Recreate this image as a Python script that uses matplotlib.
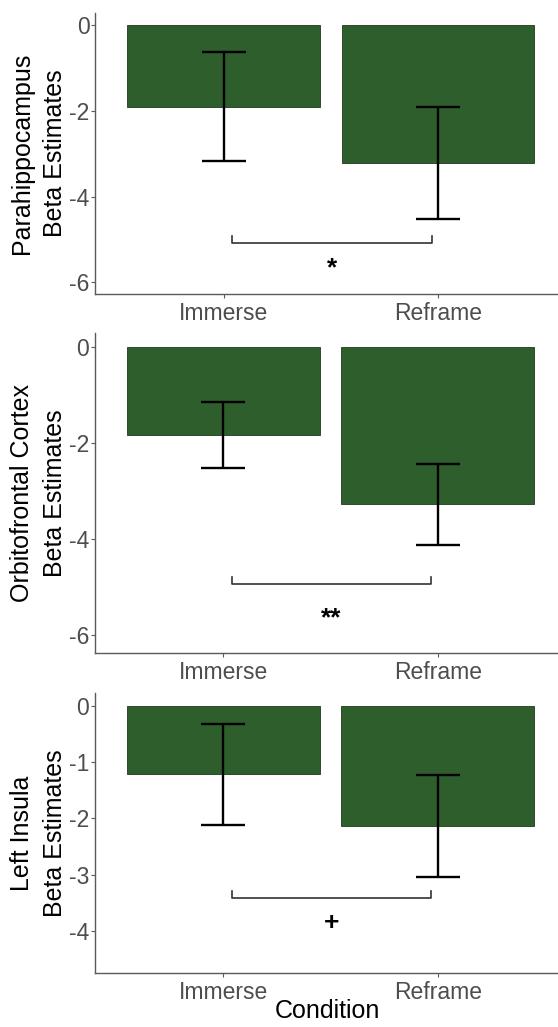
import matplotlib

matplotlib.use("Agg")
import matplotlib.pyplot as plt
import numpy as np

conditions = ["Immerse", "Reframe"]
region_labels = [
    "Parahippocampus\nBeta Estimates",
    "Orbitofrontal Cortex\nBeta Estimates",
    "Left Insula\nBeta Estimates",
]
para_means = [-1.90, -3.22]
para_se = [1.27, 1.30]
ofc_means = [-1.84, -3.28]
ofc_se = [0.69, 0.84]
insula_means = [-1.21, -2.14]
insula_se = [0.90, 0.91]

sig_labels = ["*", "**", "+"]
bracket_y = [-5.07, -4.95, -3.42]
bracket_tip = [0.15, 0.16, 0.12]
sig_text_y = [-5.66, -5.66, -3.86]
y_ticks = [[0, -2, -4, -6], [0, -2, -4, -6], [0, -1, -2, -3, -4]]
y_limits = [(-6.27, 0.29), (-6.37, 0.28), (-4.75, 0.23)]

BAR_COLOR = "#2E5E2C"
AXIS_GREY = "#5A5A5A"
TEXT_GREY = "#4D4D4D"

plt.rcParams.update(
    {
        "font.family": ["Liberation Sans", "DejaVu Sans"],
        "axes.unicode_minus": False,
    }
)

W, H = 558, 1027
fig = plt.figure(figsize=(W / 100, H / 100), dpi=100)

# axes boxes in pixels: (left, top, bottom)
boxes = [(95, 12.7, 294), (94.5, 333.3, 652.7), (94.5, 693.3, 972.7)]
series = [(para_means, para_se), (ofc_means, ofc_se), (insula_means, insula_se)]

x = np.arange(1, len(conditions) + 1)
for i, ((left, top, bottom), (means, se)) in enumerate(zip(boxes, series)):
    ax = fig.add_axes([left / W, 1 - bottom / H, 1 - left / W, (bottom - top) / H])
    ax.bar(x, means, width=0.9, color=BAR_COLOR, edgecolor="#1E3A1C", linewidth=0.6, zorder=2)
    ax.errorbar(
        x, means, yerr=se, fmt="none", ecolor="black", elinewidth=1.7,
        capsize=15.5, capthick=1.7, zorder=3,
    )
    bx0, bx1 = 1.04, 1.97
    by, tip = bracket_y[i], bracket_tip[i]
    ax.plot([bx0, bx0, bx1, bx1], [by + tip, by, by, by + tip], color="#333333", linewidth=1.2, zorder=3)
    ax.text(1.505, sig_text_y[i], sig_labels[i], ha="center", va="center",
            fontsize=19, fontweight="bold", color="black")

    ax.set_xlim(0.4, 2.56)
    ax.set_ylim(*y_limits[i])
    ax.set_yticks(y_ticks[i])
    ax.set_yticklabels([str(t) for t in y_ticks[i]])
    ax.set_xticks(x)
    ax.set_xticklabels(conditions)
    ax.tick_params(axis="both", colors=AXIS_GREY, labelcolor=TEXT_GREY, labelsize=16.5,
                   length=3, width=0.8)
    ax.tick_params(axis="y", pad=1)
    ax.tick_params(axis="x", pad=3)
    for side in ("top", "right"):
        ax.spines[side].set_visible(False)
    for side in ("left", "bottom"):
        ax.spines[side].set_color(AXIS_GREY)
        ax.spines[side].set_linewidth(1.0)

    fig.text(38.5 / W, 1 - (top + bottom) / 2 / H, region_labels[i], rotation=90,
             ha="center", va="center", fontsize=18, color="black", linespacing=1.45)

fig.text(327 / W, 1 - 1011.5 / H, "Condition", ha="center", va="center", fontsize=18, color="black")

fig.savefig("out.png", dpi=100)
